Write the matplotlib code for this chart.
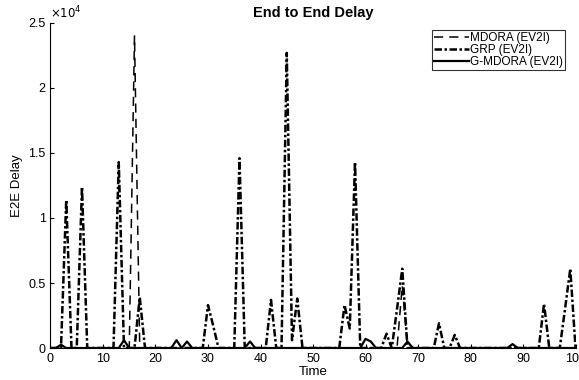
import numpy as np
import matplotlib
matplotlib.use("Agg")
import matplotlib.pyplot as plt
from matplotlib.ticker import FuncFormatter

plt.rcParams['font.family'] = ['Liberation Sans', 'DejaVu Sans']

# time axis (one sample per time step)
time = np.arange(0, 101)

# non-zero samples, everything else is 0
mdora_t = [16, 67]
mdora_v = [24000, 4800]

grp_t = [3, 6, 13, 17, 30, 31, 36, 42, 45, 46, 47, 56, 57, 58, 64, 66, 67, 74, 77, 94, 98, 99]
grp_v = [11400, 12400, 14300, 3900, 3300, 1700, 14600, 3700, 22700, 600, 3800,
         3300, 1500, 14300, 1100, 3000, 6100, 1900, 1000, 3400, 3000, 6100]

gmdora_t = [2, 14, 24, 26, 38, 60, 61, 68, 88]
gmdora_v = [250, 600, 600, 500, 500, 700, 500, 500, 300]


def build(ts, vs):
    "Fill a full series from the non-zero samples"
    y = np.zeros(len(time))
    y[np.array(ts)] = vs
    return y


mdora = build(mdora_t, mdora_v)
grp = build(grp_t, grp_v)
gmdora = build(gmdora_t, gmdora_v)

fig = plt.figure(figsize=(5.79, 3.80), dpi=100)
ax = fig.add_axes([0.0872, 0.0842, 0.9068, 0.8553])

ax.plot(time, mdora, color='black', linestyle=(0, (6, 4)), linewidth=1.1, label='MDORA (EV2I)')
ax.plot(time, grp, color='black', linestyle=(0, (3, 1, 1, 1)), linewidth=1.8, label='GRP (EV2I)')
ax.plot(time, gmdora, color='black', linestyle='-', linewidth=1.6, label='G-MDORA (EV2I)')

ax.set_xlim(0, 100)
ax.set_ylim(0, 25000)
ax.set_xticks(np.arange(0, 101, 10))
ax.set_yticks(np.arange(0, 25001, 5000))
ax.yaxis.set_major_formatter(FuncFormatter(lambda v, p: '{:g}'.format(v / 1e4)))
ax.tick_params(direction='in', length=3, labelsize=9, width=0.8)
ax.spines['top'].set_visible(False)
ax.spines['right'].set_visible(False)

ax.text(0.0, 1.005, r'$\times10^4$', transform=ax.transAxes, fontsize=8.5, va='bottom', ha='left')
ax.set_title('End to End Delay', fontsize=10.5, fontweight='bold', pad=4)
ax.set_xlabel('Time', fontsize=9.5, labelpad=1)
ax.set_ylabel('E2E Delay', fontsize=9.5, labelpad=4)

leg = ax.legend(loc='upper right', bbox_to_anchor=(0.98, 0.978), fontsize=8.5, frameon=True,
                fancybox=False, handlelength=3.0, handletextpad=0.1, borderpad=0.15,
                labelspacing=0.0, borderaxespad=0.0)
leg.get_frame().set_edgecolor('black')
leg.get_frame().set_linewidth(0.8)

plt.savefig('out.png', dpi=100)
plt.close()
